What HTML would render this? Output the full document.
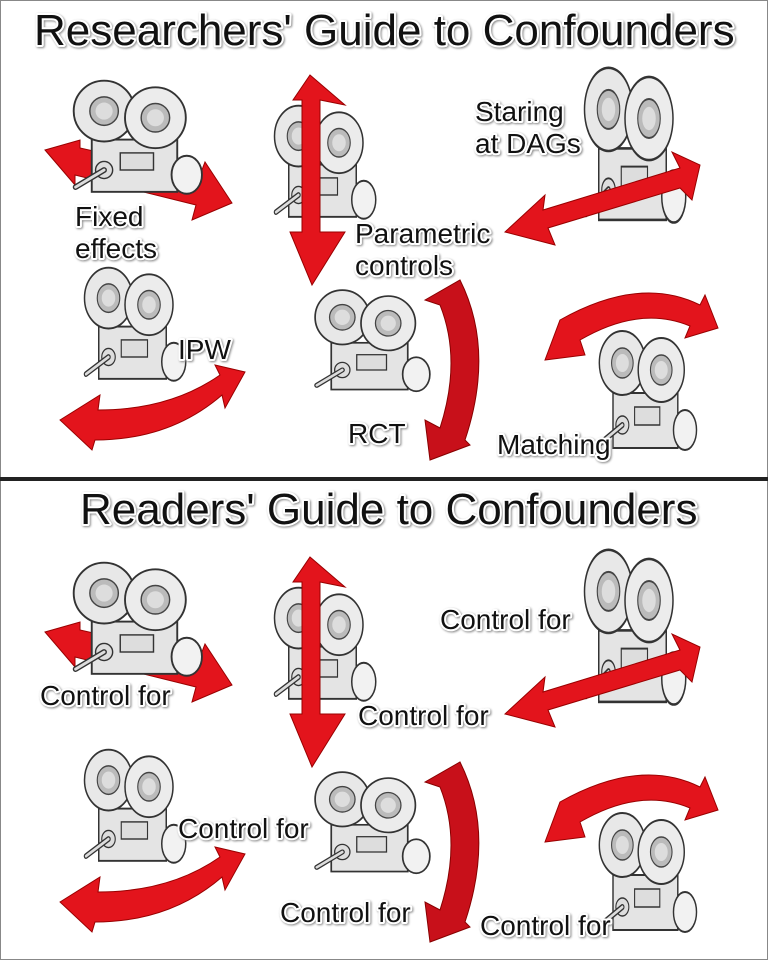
<!DOCTYPE html>
<html><head><meta charset="utf-8"><style>
html,body{margin:0;padding:0;background:#fff}
svg{display:block}
text{font-family:"Liberation Sans",sans-serif;fill:#111;stroke:#fff;stroke-width:4;paint-order:stroke fill;stroke-linejoin:round;filter:drop-shadow(1px 1px 1px #888)}
.t{font-size:44px}
.l{font-size:28px}
</style></head><body>
<svg width="768" height="960" viewBox="0 0 768 960" xmlns="http://www.w3.org/2000/svg">
<defs>
<g id="cam">
  <rect x="25" y="68" width="90" height="55" fill="#e4e4e4" stroke="#333" stroke-width="2"/>
  <rect x="55" y="82" width="35" height="18" fill="#ddd" stroke="#333" stroke-width="1.5"/>
  <circle cx="38" cy="38" r="32" fill="#e8e8e8" stroke="#333" stroke-width="2"/>
  <circle cx="38" cy="38" r="15" fill="#bbb" stroke="#444" stroke-width="1.5"/>
  <circle cx="38" cy="38" r="9" fill="#ddd"/>
  <circle cx="92" cy="45" r="32" fill="#ececec" stroke="#333" stroke-width="2"/>
  <circle cx="92" cy="45" r="15" fill="#bbb" stroke="#444" stroke-width="1.5"/>
  <circle cx="92" cy="45" r="9" fill="#ddd"/>
  <ellipse cx="125" cy="105" rx="16" ry="20" fill="#f2f2f2" stroke="#333" stroke-width="2"/>
  <circle cx="38" cy="100" r="9" fill="#ddd" stroke="#333" stroke-width="1.5"/>
  <path d="M38 100 L8 118" stroke="#333" stroke-width="6" stroke-linecap="round"/>
  <path d="M38 100 L8 118" stroke="#ddd" stroke-width="3" stroke-linecap="round"/>
</g>
<g id="panel">
  <polygon points="45,150 80,140 80,148 200,175 205,162 232,203 192,220 196,205 75,175 75,185" fill="#e3141c" stroke="#900" stroke-width="1"/>
  <use href="#cam" transform="translate(68,75) scale(0.95)"/>
  <use href="#cam" transform="translate(270,100) scale(0.75,0.95)"/>
  <polygon points="310,75 345,105 320,100 320,232 345,232 312,285 290,232 302,232 302,100 293,100" fill="#e3141c" stroke="#900" stroke-width="1"/>
  <use href="#cam" transform="translate(580,60) scale(0.75,1.3)"/>
  <polygon points="505,232 545,195 543,210 680,168 672,152 700,165 692,200 680,188 548,228 555,245" fill="#e3141c" stroke="#900" stroke-width="1"/>
  <use href="#cam" transform="translate(80,262) scale(0.75,0.95)"/>
  <path d="M60,420 L100,395 L98,410 Q170,410 220,375 L215,365 L245,372 L225,408 L222,395 Q170,440 95,440 L92,450 Z" fill="#e3141c" stroke="#900" stroke-width="1"/>
  <use href="#cam" transform="translate(310,285) scale(0.85)"/>
  <path d="M425,300 L460,280 Q495,350 465,440 L470,445 L430,460 L425,420 L440,428 Q462,360 440,305 Z" fill="#c8101a" stroke="#800" stroke-width="1"/>
  <use href="#cam" transform="translate(595,325) scale(0.72,1.0)"/>
  <path d="M545,360 L560,320 Q640,275 700,305 L705,295 L718,328 L685,338 L690,326 Q640,305 580,340 L585,355 Z" fill="#e3141c" stroke="#900" stroke-width="1"/>
</g>
</defs>
<rect x="0.5" y="0.5" width="767" height="959" fill="#fff" stroke="#888"/>
<use href="#panel"/>
<use href="#panel" transform="translate(0,482)"/>
<rect x="0" y="477" width="768" height="4" fill="#222"/>

<text class="t" x="34" y="45">Researchers' Guide to Confounders</text>
<text class="l" x="75" y="226">Fixed</text>
<text class="l" x="75" y="258">effects</text>
<text class="l" x="355" y="243">Parametric</text>
<text class="l" x="355" y="275">controls</text>
<text class="l" x="475" y="121">Staring</text>
<text class="l" x="475" y="153">at DAGs</text>
<text class="l" x="178" y="359">IPW</text>
<text class="l" x="348" y="443">RCT</text>
<text class="l" x="497" y="454">Matching</text>

<text class="t" x="80" y="524">Readers' Guide to Confounders</text>
<text class="l" x="40" y="705">Control for</text>
<text class="l" x="358" y="725">Control for</text>
<text class="l" x="440" y="629">Control for</text>
<text class="l" x="178" y="838">Control for</text>
<text class="l" x="280" y="922">Control for</text>
<text class="l" x="480" y="935">Control for</text>
</svg>
</body></html>
